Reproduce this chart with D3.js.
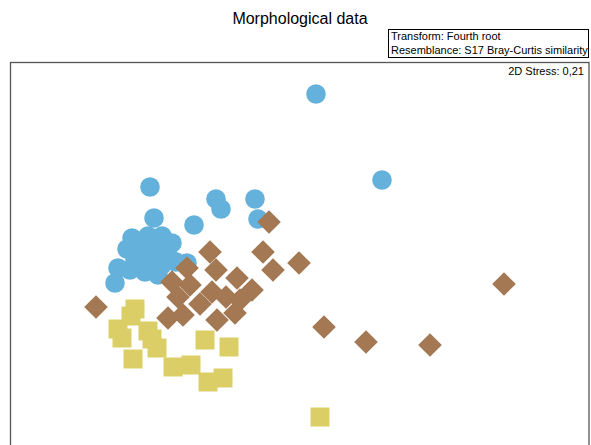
<!DOCTYPE html>
<html lang="en">
	<head>
		<meta charset="utf-8">
		<title>Morphological data</title>
		<script type="text/javascript" src="https://cdnjs.cloudflare.com/ajax/libs/d3/7.8.5/d3.min.js"></script>
		<style type="text/css">
			body { margin: 0; background: #fff; }
			text { font-family: "Liberation Sans", Arial, sans-serif; fill: #000; }
		</style>
	</head>
	<body>
		<script type="text/javascript">

			//Width and height
			var w = 591;
			var h = 445;

			//MDS coordinates, one array per group
			var blueX = [0.16, 0.82, -1.50, -0.84, -0.45, -0.79, -1.46, -1.06, -0.42, -1.68, -1.52, -1.38, -1.28, -1.73, -1.60, -1.45, -1.32, -1.65, -1.50, -1.38, -1.82, -1.70, -1.55, -1.42, -1.85, -1.13, -1.24];
			var blueY = [1.56, 0.70, 0.63, 0.51, 0.51, 0.41, 0.32, 0.25, 0.31, 0.12, 0.14, 0.14, 0.07, 0.01, 0.02, 0.02, -0.05, -0.10, -0.12, -0.15, -0.18, -0.20, -0.22, -0.25, -0.33, -0.13, -0.12];

			var brownX = [-0.31, -0.90, -0.37, -0.27, -0.01, -1.13, -0.84, -1.28, -1.10, -1.22, -0.63, -0.48, -0.88, -1.00, -0.83, -0.60, -0.65, -0.74, -1.32, -1.17, -2.04, 0.24, 0.66, 1.30, 2.04];
			var brownY = [0.28, -0.02, -0.02, -0.20, -0.13, -0.18, -0.20, -0.32, -0.35, -0.47, -0.28, -0.40, -0.42, -0.54, -0.70, -0.50, -0.63, -0.47, -0.68, -0.65, -0.57, -0.77, -0.92, -0.95, -0.34];

			var yellowX = [0.20, -1.65, -1.69, -1.82, -1.78, -1.52, -1.48, -1.43, -1.67, -1.27, -1.09, -0.92, -0.77, -0.95, -0.71];
			var yellowY = [-1.67, -0.59, -0.66, -0.79, -0.88, -0.81, -0.89, -0.98, -1.09, -1.17, -1.15, -1.32, -1.28, -0.90, -0.97];

			var titleText = "Morphological data";
			var infoLines = ["Transform: Fourth root", "Resemblance: S17 Bray-Curtis similarity"];
			var stressText = "2D Stress: 0,21";

			var frame = {left: 10.5, top: 62.5, right: 589, bottom: 460};

			//Scales
			var xScale = d3.scaleLinear()
						   .domain([-2.9, 2.89])
						   .range([10, 589]);
			var yScale = d3.scaleLinear()
						   .domain([1.88, -1.95])
						   .range([62, 445]);

			var svg = d3.select("body")
						.append("svg")
						.attr("width", w)
						.attr("height", h);

			//Title
			svg.append("text")
			   .attr("x", 300)
			   .attr("y", 24)
			   .attr("text-anchor", "middle")
			   .style("font-size", "16px")
			   .text(titleText);

			//Info box
			svg.append("rect")
			   .attr("x", 388.5)
			   .attr("y", 29.5)
			   .attr("width", 200)
			   .attr("height", 28)
			   .attr("fill", "none")
			   .attr("stroke", "#000")
			   .attr("stroke-width", 1);

			svg.selectAll("text.info")
			   .data(infoLines)
			   .enter()
			   .append("text")
			   .attr("class", "info")
			   .attr("x", 391)
			   .attr("y", (d, i) => 40 + i * 14)
			   .style("font-size", "11px")
			   .text(d => d);

			//Plot frame
			svg.append("rect")
			   .attr("x", frame.left)
			   .attr("y", frame.top)
			   .attr("width", frame.right - frame.left)
			   .attr("height", frame.bottom - frame.top)
			   .attr("fill", "none")
			   .attr("stroke", "#555")
			   .attr("stroke-width", 1.3);

			svg.append("text")
			   .attr("x", 584)
			   .attr("y", 75)
			   .attr("text-anchor", "end")
			   .style("font-size", "11px")
			   .text(stressText);

			var blue = blueX.map((x, i) => ({x: x, y: blueY[i]}));
			var brown = brownX.map((x, i) => ({x: x, y: brownY[i]}));
			var yellow = yellowX.map((x, i) => ({x: x, y: yellowY[i]}));

			var plot = svg.append("g");

			//Circles
			plot.selectAll("circle")
			   .data(blue)
			   .enter()
			   .append("circle")
			   .attr("cx", d => xScale(d.x))
			   .attr("cy", d => yScale(d.y))
			   .attr("r", 9.8)
			   .attr("fill", "#64B1DC");

			//Diamonds
			var diamond = d3.symbol().type(d3.symbolSquare).size(280);
			plot.selectAll("path.diamond")
			   .data(brown)
			   .enter()
			   .append("path")
			   .attr("class", "diamond")
			   .attr("d", diamond)
			   .attr("transform", d => `translate(${xScale(d.x)},${yScale(d.y)}) rotate(45)`)
			   .attr("fill", "#A37852");

			//Squares
			var square = d3.symbol().type(d3.symbolSquare).size(361);
			plot.selectAll("path.square")
			   .data(yellow)
			   .enter()
			   .append("path")
			   .attr("class", "square")
			   .attr("d", square)
			   .attr("transform", d => `translate(${xScale(d.x)},${yScale(d.y)})`)
			   .attr("fill", "#DBCE66");

		</script>
	</body>
</html>
